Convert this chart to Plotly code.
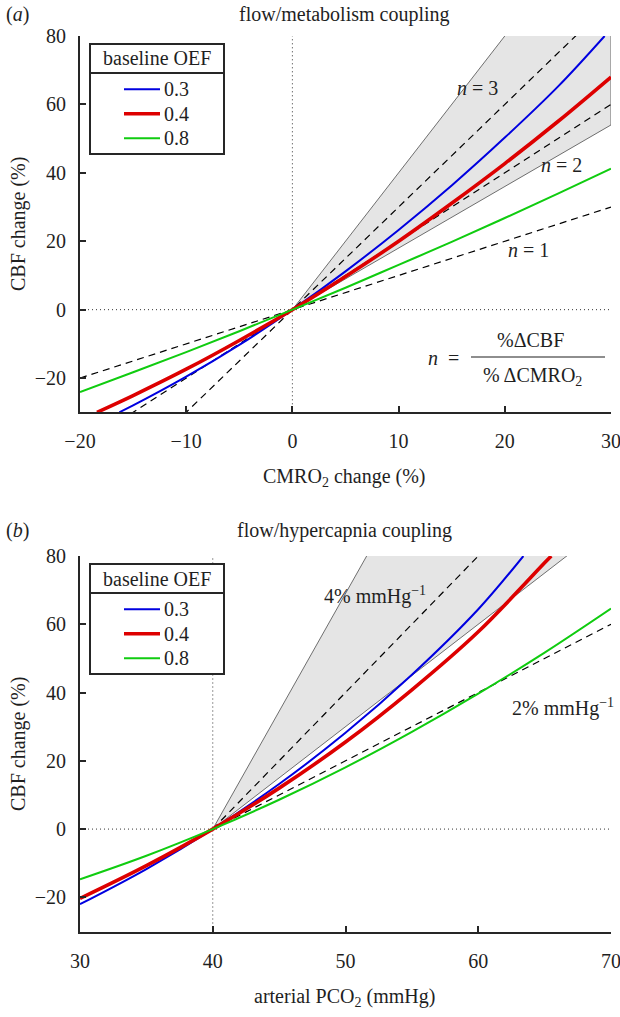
import plotly.graph_objects as go

W, H = 620, 1017
FONT = "Liberation Serif, Times New Roman, serif"
INK = "#1f1f1f"
AXC = "#262626"

# ---- data ----
oef_levels = ["0.3", "0.4", "0.8"]

# (a) flow/metabolism coupling: CMRO2 change (%) vs CBF change (%)
cmro2_03 = [-16.3, -15, -10, -5, 0, 5, 10, 15, 20, 25, 29.4]
cbf_a_03 = [-30, -28.0, -19.6, -10.3, 0, 11.2, 23.3, 36.3, 50.3, 65.2, 80]
cmro2_04 = [-18.4, -15, -10, -5, 0, 5, 10, 15, 20, 25, 30]
cbf_a_04 = [-30, -25.1, -17.4, -9.0, 0, 9.7, 20.0, 31.1, 42.7, 55.0, 68.0]
cmro2_08 = [-20, -15, -10, -5, 0, 5, 10, 15, 20, 25, 30]
cbf_a_08 = [-24.1, -18.3, -12.4, -6.3, 0, 6.4, 13.1, 19.8, 26.8, 33.9, 41.2]
n_lines = [1, 2, 3]
n_band = [1.8, 4.0]
cmro2_range = [-20, 30]

# (b) flow/hypercapnia coupling: arterial PCO2 (mmHg) vs CBF change (%)
pco2_03 = [30, 35, 40, 45, 50, 55, 60, 63.4]
cbf_b_03 = [-22.0, -11.7, 0, 13.2, 28.2, 45.2, 64.4, 80]
pco2_04 = [30, 35, 40, 45, 50, 55, 60, 65, 65.5]
cbf_b_04 = [-20.3, -10.7, 0, 12.0, 25.5, 40.8, 57.8, 78.0, 80]
pco2_08 = [30, 35, 40, 45, 50, 55, 60, 65, 70]
cbf_b_08 = [-14.7, -7.8, 0, 8.6, 18.1, 28.5, 39.7, 51.7, 64.6]
rate_lines = [2, 4]          # % per mmHg
rate_band = [3.0, 6.9]
pco2_base = 40
pco2_range = [30, 70]

cbf_range = [-30, 80]
ytick_vals = [-20, 0, 20, 40, 60, 80]

# ---- styling ----
colors = ["#0000e0", "#dd0000", "#10cc10"]
widths = [2, 3.6, 2]

def px(x):
    return x / W

def py(y):
    return 1 - y / H

# plot areas in page pixels (left, right, top, bottom)
AREA_A = (80, 611, 36, 412.3)
AREA_B = (80, 611, 556, 931.5)

fig = go.Figure()

def add_panel(xr, yr, curves, n_or_rates, band, base, xspan):
    # grey band of observed coupling values
    x0, x1 = xspan
    fig.add_trace(go.Scatter(
        x=[base, x1, x1, base],
        y=[0, (x1 - base) * band[1], (x1 - base) * band[0], 0],
        fill="toself", fillcolor="#e5e5e5", mode="lines",
        line=dict(color="#4d4d4d", width=0.8),
        xaxis=xr, yaxis=yr, hoverinfo="skip"))
    for k in n_or_rates:
        start = x0 if base == 0 else base
        fig.add_trace(go.Scatter(
            x=[start, x1], y=[(start - base) * k, (x1 - base) * k],
            mode="lines", line=dict(color="black", width=1.2, dash="7px,5px"),
            xaxis=xr, yaxis=yr, hoverinfo="skip"))
    for (xs, ys), c, w in zip(curves, colors, widths):
        fig.add_trace(go.Scatter(
            x=xs, y=ys, mode="lines", line=dict(color=c, width=w, shape="spline"),
            xaxis=xr, yaxis=yr))

add_panel("x", "y", [(cmro2_03, cbf_a_03), (cmro2_04, cbf_a_04), (cmro2_08, cbf_a_08)],
          n_lines, n_band, 0, cmro2_range)
add_panel("x2", "y2", [(pco2_03, cbf_b_03), (pco2_04, cbf_b_04), (pco2_08, cbf_b_08)],
          rate_lines, rate_band, pco2_base, pco2_range)

axis_common = dict(
    showline=True, linewidth=2, linecolor=AXC, ticks="inside", ticklen=6,
    tickwidth=2, tickcolor=AXC, showgrid=False, zeroline=False, mirror=False,
    automargin=False, ticklabeloverflow="allow",
    tickfont=dict(family=FONT, size=20, color=INK),
)

fig.update_layout(
    width=W, height=H, margin=dict(l=0, r=0, t=0, b=0, autoexpand=False),
    plot_bgcolor="white", paper_bgcolor="white", showlegend=False,
    xaxis=dict(domain=[px(AREA_A[0]), px(AREA_A[1])], range=cmro2_range, anchor="y",
               tickvals=[-20, -10, 0, 10, 20, 30], ticklabelstandoff=10, **axis_common),
    yaxis=dict(domain=[py(AREA_A[3]), py(AREA_A[2])], range=cbf_range, anchor="x",
               tickvals=ytick_vals, ticklabelstandoff=8, **axis_common),
    xaxis2=dict(domain=[px(AREA_B[0]), px(AREA_B[1])], range=pco2_range, anchor="y2",
                tickvals=[30, 40, 50, 60, 70], ticklabelstandoff=10, **axis_common),
    yaxis2=dict(domain=[py(AREA_B[3]), py(AREA_B[2])], range=cbf_range, anchor="x2",
                tickvals=ytick_vals, ticklabelstandoff=8, **axis_common),
)

# dotted zero lines
dot = dict(color="#333333", width=1, dash="1px,3px")
fig.add_shape(type="line", xref="x", yref="y domain", x0=0, x1=0, y0=0, y1=1, line=dot, layer="below")
fig.add_shape(type="line", xref="x domain", yref="y", x0=0, x1=1, y0=0, y1=0, line=dot, layer="below")
fig.add_shape(type="line", xref="x2", yref="y2 domain", x0=pco2_base, x1=pco2_base, y0=0, y1=1, line=dot, layer="below")
fig.add_shape(type="line", xref="x2 domain", yref="y2", x0=0, x1=1, y0=0, y1=0, line=dot, layer="below")

def text(x, y, s, size=20, xanchor="center", angle=0):
    fig.add_annotation(x=px(x), y=py(y), xref="paper", yref="paper", text=s,
                       showarrow=False, xanchor=xanchor, yanchor="middle", textangle=angle,
                       font=dict(family=FONT, size=size, color=INK))

# legend boxes drawn by hand (MATLAB style header + entries)
def legend_box(dy):
    fig.add_shape(type="rect", xref="paper", yref="paper",
                  x0=px(90), x1=px(224), y0=py(44 + dy), y1=py(154 + dy),
                  line=dict(color=AXC, width=2), fillcolor="white", layer="above")
    fig.add_shape(type="line", xref="paper", yref="paper",
                  x0=px(90), x1=px(224), y0=py(73 + dy), y1=py(73 + dy),
                  line=dict(color=AXC, width=2), layer="above")
    text(157, 58.5 + dy, "baseline OEF", size=20)
    for i, (lab, c, w) in enumerate(zip(oef_levels, colors, widths)):
        yy = 89.3 + 24.5 * i + dy
        fig.add_shape(type="line", xref="paper", yref="paper",
                      x0=px(124), x1=px(160), y0=py(yy), y1=py(yy),
                      line=dict(color=c, width=w), layer="above")
        text(162, yy, lab, size=20, xanchor="left")

legend_box(0)
legend_box(520)

# panel (a) texts
text(4, 15, "(<i>a</i>)", xanchor="left")
text(345, 15, "flow/metabolism coupling")
text(18, 224, "CBF change (%)", angle=-90)
text(345, 477, "CMRO<sub>2</sub> change (%)")
text(477, 88, "<i>n</i> = 3")
text(561, 165, "<i>n</i> = 2")
text(528, 250, "<i>n</i> = 1")
text(443, 358, "<i>n</i>  =")
text(530, 340, "%ΔCBF")
text(532, 377, "% ΔCMRO<sub>2</sub>")
fig.add_shape(type="line", xref="paper", yref="paper", x0=px(471), x1=px(605),
              y0=py(357), y1=py(357), line=dict(color=INK, width=1.2))

# panel (b) texts
text(4, 530, "(<i>b</i>)", xanchor="left")
text(345, 530, "flow/hypercapnia coupling")
text(18, 744, "CBF change (%)", angle=-90)
text(345, 997, "arterial PCO<sub>2</sub> (mmHg)")
text(375, 595, "4% mmHg<sup>−1</sup>")
text(616, 707, "2% mmHg<sup>−1</sup>", xanchor="right")

# drop the default 8px page margin so the 620x1017 figure fills the window exactly
fig.write_html("out.html", config={"displayModeBar": False},
               post_script="document.body.style.margin='0';document.body.style.overflow='hidden';")
